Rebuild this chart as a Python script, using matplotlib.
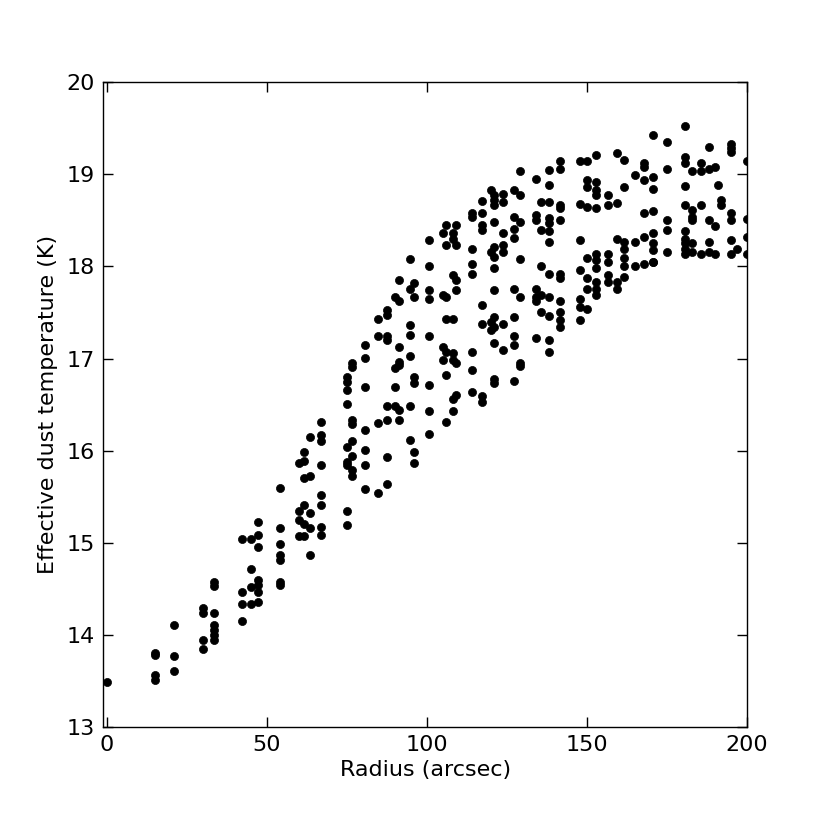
import matplotlib
matplotlib.use("Agg")
import matplotlib.pyplot as plt

# radius (arcsec) -> effective dust temperatures (K)
radii = [0, 15, 21.2, 30, 33.5, 42.4, 45, 47.4, 54.1, 60, 61.8, 63.6, 67.1,
         75, 76.5, 80.8, 84.9, 87.5, 90, 91.2, 94.9, 96, 100.6, 105, 106.1,
         108.2, 109.2, 114.2, 117.2, 120, 120.9, 123.7, 127.3, 129, 134.2,
         135.8, 138.3, 141.5, 148, 150, 153, 156.6, 159.5, 161.6, 165, 167.7,
         170.5, 175, 180.6, 182.8, 185.5, 188, 190, 191, 192, 195, 197, 200]

temps = [
    [13.49],
    [13.80, 13.78, 13.56, 13.51],
    [14.11, 13.77, 13.61],
    [14.29, 14.24, 13.94, 13.85],
    [14.57, 14.53, 14.24, 14.11, 14.05, 14.00, 13.94],
    [15.04, 14.47, 14.34, 14.15],
    [15.04, 14.72, 14.52, 14.34],
    [15.23, 15.08, 14.95, 14.60, 14.54, 14.47, 14.36],
    [15.60, 15.16, 14.99, 14.87, 14.81, 14.58, 14.54],
    [15.87, 15.35, 15.25, 15.07],
    [15.99, 15.89, 15.70, 15.41, 15.20, 15.07],
    [16.15, 15.73, 15.32, 15.16, 14.87],
    [16.31, 16.17, 16.11, 15.84, 15.52, 15.41, 15.17, 15.08],
    [16.80, 16.75, 16.66, 16.51, 16.04, 15.88, 15.84, 15.34, 15.19],
    [16.95, 16.91, 16.33, 16.29, 16.11, 15.94, 15.79, 15.73],
    [17.15, 17.01, 16.69, 16.22, 16.01, 15.84, 15.58],
    [17.43, 17.24, 16.30, 15.54],
    [17.53, 17.47, 17.25, 17.20, 16.48, 16.33, 15.93, 15.64],
    [17.67, 16.90, 16.69, 16.48],
    [17.85, 17.63, 17.13, 16.96, 16.93, 16.44, 16.33],
    [18.08, 17.75, 17.36, 17.26, 17.03, 16.48, 16.12],
    [17.82, 17.67, 16.80, 16.73, 15.99, 15.87],
    [18.29, 18.01, 17.74, 17.65, 17.24, 16.71, 16.43, 16.18],
    [18.36, 17.69, 17.13, 16.98],
    [18.45, 18.23, 17.67, 17.43, 17.07, 16.82, 16.31],
    [18.36, 18.30, 17.91, 17.43, 17.06, 16.98, 16.56, 16.43],
    [18.45, 18.23, 17.85, 17.74, 16.95, 16.60],
    [18.58, 18.54, 18.19, 18.03, 17.92, 17.07, 16.88, 16.64],
    [18.71, 18.58, 18.45, 18.39, 17.58, 17.37, 16.59, 16.53],
    [18.83, 18.16, 17.40, 17.31],
    [18.77, 18.72, 18.67, 18.48, 18.21, 18.10, 17.98, 17.74, 17.45, 17.34,
     17.17, 16.78, 16.74],
    [18.79, 18.70, 18.36, 18.23, 18.16, 17.38, 17.09],
    [18.83, 18.54, 18.41, 18.31, 17.75, 17.45, 17.24, 17.15, 16.76],
    [19.04, 18.77, 18.48, 18.08, 17.67, 16.95, 16.92],
    [18.95, 18.56, 18.50, 17.76, 17.67, 17.63, 17.22],
    [18.70, 18.39, 18.01, 17.69, 17.51],
    [19.05, 18.88, 18.70, 18.53, 18.47, 18.38, 18.27, 17.92, 17.67, 17.46,
     17.20, 17.07],
    [19.14, 19.06, 18.67, 18.63, 18.50, 17.92, 17.87, 17.62, 17.51, 17.42,
     17.34],
    [19.14, 18.68, 18.29, 17.96, 17.65, 17.56, 17.42],
    [19.14, 18.94, 18.86, 18.65, 18.09, 17.87, 17.76, 17.54],
    [19.21, 18.92, 18.83, 18.77, 18.63, 18.14, 18.07, 17.98, 17.83, 17.76,
     17.69],
    [18.77, 18.67, 18.14, 18.05, 17.91, 17.83],
    [19.23, 18.69, 18.30, 17.83, 17.76],
    [19.15, 18.86, 18.27, 18.19, 18.09, 18.00, 17.89],
    [18.99, 18.27, 18.00],
    [19.12, 19.08, 18.94, 18.58, 18.32, 18.03],
    [19.43, 18.97, 18.84, 18.60, 18.36, 18.25, 18.18, 18.05, 18.05],
    [19.35, 19.06, 18.50, 18.39, 18.16],
    [19.52, 19.19, 19.12, 18.87, 18.67, 18.38, 18.30, 18.25, 18.19, 18.14],
    [19.04, 18.61, 18.54, 18.50, 18.25, 18.16],
    [19.12, 19.04, 18.67, 18.14],
    [19.30, 19.06, 18.50, 18.26, 18.16],
    [19.08, 18.44, 18.14],
    [18.88],
    [18.72, 18.67],
    [19.33, 19.29, 19.24, 18.58, 18.50, 18.29, 18.14],
    [18.19],
    [19.14, 18.52, 18.32, 18.14],
]

xs, ys = [], []
for r, tl in zip(radii, temps):
    for t in tl:
        xs.append(r)
        ys.append(t)

plt.rcParams['font.family'] = ['DejaVu Sans']
fig = plt.figure(figsize=(8.3, 8.3), dpi=100)
ax = fig.add_axes([0.1245, 0.124, 0.7755, 0.777])
ax.scatter(xs, ys, s=34, c='black', edgecolors='black', linewidths=0.5,
           zorder=3)
ax.set_xlim(-1, 200)
ax.set_ylim(13, 20)
ax.set_xticks([0, 50, 100, 150, 200])
ax.set_yticks([13, 14, 15, 16, 17, 18, 19, 20])
ax.tick_params(direction='in', top=True, right=True, length=7, width=1,
               labelsize=16, pad=6)
for s in ax.spines.values():
    s.set_linewidth(1)
ax.set_xlabel('Radius (arcsec)', fontsize=16, labelpad=3)
ax.set_ylabel('Effective dust temperature (K)', fontsize=16, labelpad=6)
fig.savefig('out.png', dpi=100)
